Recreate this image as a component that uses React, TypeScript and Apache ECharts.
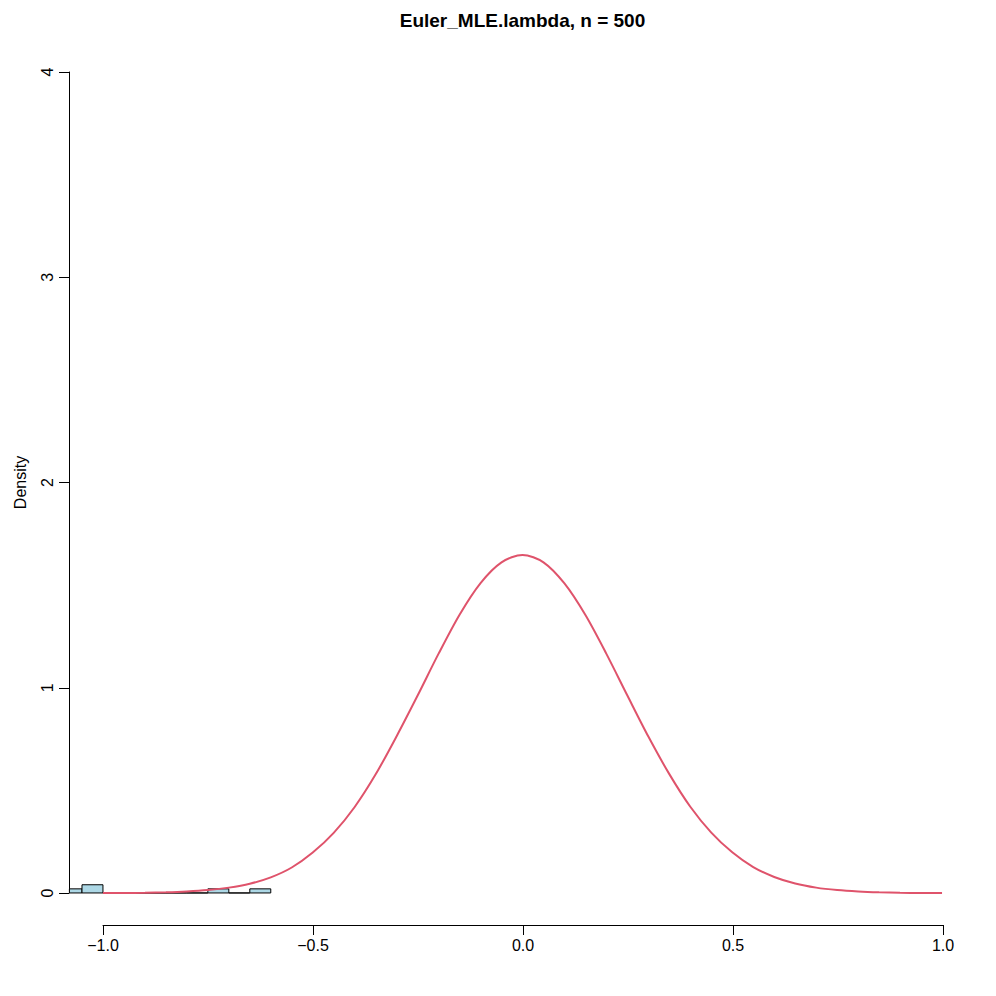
import React, { useEffect, useRef } from "react";
import * as echarts from "echarts";

const titleText = "Euler_MLE.lambda, n = 500";
const yAxisName = "Density";
const xTickValues = [-1.0, -0.5, 0.0, 0.5, 1.0];

// Histogram bins (density)
const binStart = [-1.1, -1.05, -1.0, -0.95, -0.9, -0.85, -0.8, -0.75, -0.7, -0.65];
const binEnd = [-1.05, -1.0, -0.95, -0.9, -0.85, -0.8, -0.75, -0.7, -0.65, -0.6];
const binDensity = [0.02, 0.04, 0, 0, 0, 0, 0, 0.02, 0, 0.02];

// Density curve points
const curveX = [
  -1.0, -0.95, -0.9, -0.85, -0.8, -0.75, -0.7, -0.65, -0.6, -0.55, -0.5, -0.45, -0.4, -0.35, -0.3,
  -0.25, -0.2, -0.15, -0.1, -0.05, 0.0, 0.05, 0.1, 0.15, 0.2, 0.25, 0.3, 0.35, 0.4, 0.45, 0.5,
  0.55, 0.6, 0.65, 0.7, 0.75, 0.8, 0.85, 0.9, 0.95, 1.0,
];
const curveY = [
  0.0, 0.0, 0.001, 0.003, 0.007, 0.014, 0.026, 0.045, 0.076, 0.124, 0.197, 0.293, 0.419, 0.578,
  0.764, 0.962, 1.166, 1.356, 1.51, 1.611, 1.647, 1.611, 1.508, 1.354, 1.165, 0.962, 0.762, 0.579,
  0.42, 0.294, 0.198, 0.126, 0.078, 0.046, 0.026, 0.014, 0.007, 0.003, 0.001, 0.0, 0.0,
];

const FONT = '"Liberation Sans", Arial, Helvetica, sans-serif';

export default function App() {
  const ref = useRef<HTMLDivElement>(null);

  useEffect(() => {
    if (!ref.current) return;
    const chart = echarts.init(ref.current, null, { renderer: "svg" });

    const histData = binStart.map((s, i) => [s, binEnd[i], binDensity[i]]);
    const curveData = curveX.map((x, i) => [x, curveY[i]]);
    const fmt = (v: number) => v.toFixed(1).replace("-", "\u2212");

    chart.setOption({
      animation: false,
      backgroundColor: "#ffffff",
      graphic: [
        {
          type: "text",
          x: 522.5,
          y: 20,
          style: {
            text: titleText,
            font: `bold 19px ${FONT}`,
            fill: "#000",
            textAlign: "center",
            textVerticalAlign: "middle",
          },
        },
      ],
      grid: [
        { left: 103, right: 53, top: 39, bottom: 71, containLabel: false },
        { left: 69, right: 53, top: 72, bottom: 103, containLabel: false },
        { left: 69.4, right: 20.4, top: 39.2, bottom: 70.2, containLabel: false },
      ],
      xAxis: [
        {
          gridIndex: 0,
          type: "value",
          min: -1,
          max: 1,
          interval: 0.5,
          axisLine: { show: true, onZero: false, lineStyle: { color: "#000", width: 1 } },
          axisTick: { show: true, length: 10, lineStyle: { color: "#000", width: 1 } },
          axisLabel: {
            show: true,
            color: "#000",
            fontSize: 16,
            fontFamily: FONT,
            margin: 12,
            showMinLabel: true,
            showMaxLabel: true,
            formatter: (v: number) => (xTickValues.some((t) => Math.abs(t - v) < 1e-9) ? fmt(v) : ""),
          },
          splitLine: { show: false },
        },
        { gridIndex: 1, type: "value", show: false, min: 0, max: 1 },
        { gridIndex: 2, type: "value", show: false, min: -1.08, max: 1.08 },
      ],
      yAxis: [
        { gridIndex: 0, type: "value", show: false, min: 0, max: 1 },
        {
          gridIndex: 1,
          type: "value",
          min: 0,
          max: 4,
          interval: 1,
          name: yAxisName,
          nameLocation: "middle",
          nameRotate: 90,
          nameGap: 41,
          nameTextStyle: { color: "#000", fontSize: 16, fontFamily: FONT },
          axisLine: { show: true, onZero: false, lineStyle: { color: "#000", width: 1 } },
          axisTick: { show: true, length: 10, lineStyle: { color: "#000", width: 1 } },
          axisLabel: {
            show: true,
            rotate: 90,
            color: "#000",
            fontSize: 16,
            fontFamily: FONT,
            margin: 14,
            showMinLabel: true,
            showMaxLabel: true,
          },
          splitLine: { show: false },
        },
        { gridIndex: 2, type: "value", show: false, min: -0.16, max: 4.16 },
      ],
      series: [
        {
          type: "custom",
          xAxisIndex: 2,
          yAxisIndex: 2,
          z: 2,
          encode: { x: [0, 1], y: 2 },
          data: histData,
          renderItem: (params: any, api: any) => {
            const x0 = api.value(0);
            const x1 = api.value(1);
            const h = api.value(2);
            const p0 = api.coord([x0, 0]);
            const p1 = api.coord([x1, h]);
            const cs = params.coordSys;
            const left = Math.max(p0[0], cs.x);
            const right = Math.min(p1[0], cs.x + cs.width);
            if (right <= left) return null;
            return {
              type: "polygon",
              shape: {
                points: [
                  [left, p0[1]],
                  [right, p0[1]],
                  [right, p1[1]],
                  [left, p1[1]],
                ],
              },
              style: { fill: "#ADD8E6", stroke: "#000", lineWidth: 1 },
            };
          },
        },
        {
          type: "line",
          xAxisIndex: 2,
          yAxisIndex: 2,
          z: 3,
          data: curveData,
          smooth: 0.3,
          symbol: "none",
          showSymbol: false,
          lineStyle: { color: "#DF536B", width: 2 },
          itemStyle: { color: "#DF536B" },
        },
      ],
    });

    return () => chart.dispose();
  }, []);

  return (
    <div
      ref={ref}
      style={{ position: "absolute", left: 0, top: 0, width: 996, height: 996 }}
    />
  );
}
